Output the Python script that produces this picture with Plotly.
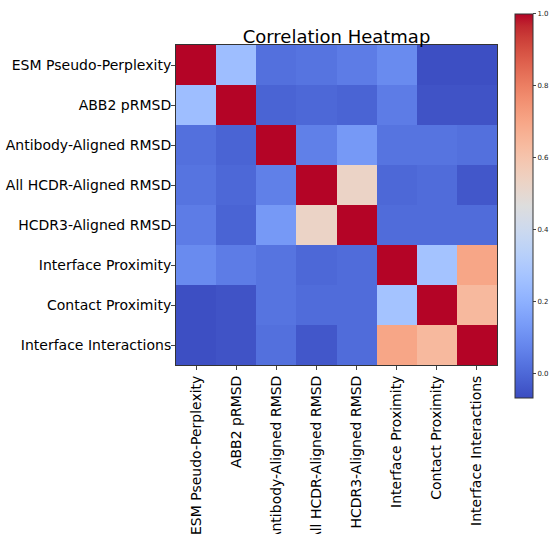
import plotly.graph_objects as go

labels = ["ESM Pseudo-Perplexity", "ABB2 pRMSD", "Antibody-Aligned RMSD",
          "All HCDR-Aligned RMSD", "HCDR3-Aligned RMSD", "Interface Proximity",
          "Contact Proximity", "Interface Interactions"]

row_esm = [1.00, 0.25, 0.02, 0.03, 0.05, 0.09, -0.06, -0.06]
row_abb2 = [0.25, 1.00, -0.01, 0.00, -0.01, 0.05, -0.05, -0.05]
row_ab = [0.02, -0.01, 1.00, 0.06, 0.13, 0.03, 0.03, 0.02]
row_hcdr = [0.03, 0.00, 0.06, 1.00, 0.53, 0.00, 0.01, -0.04]
row_hcdr3 = [0.05, -0.01, 0.13, 0.53, 1.00, 0.01, 0.01, 0.01]
row_iprox = [0.09, 0.05, 0.03, 0.00, 0.01, 1.00, 0.27, 0.70]
row_cprox = [-0.06, -0.05, 0.03, 0.01, 0.01, 0.27, 1.00, 0.64]
row_inter = [-0.06, -0.05, 0.02, -0.04, 0.01, 0.70, 0.64, 1.00]

z = [row_esm, row_abb2, row_ab, row_hcdr, row_hcdr3, row_iprox, row_cprox, row_inter]

cw = [(59,76,192),(68,90,204),(77,104,215),(87,117,225),(98,130,234),(108,142,241),
      (119,154,247),(130,165,251),(141,176,254),(152,185,255),(163,194,255),(174,201,253),
      (184,208,249),(194,213,244),(204,217,238),(213,219,230),(221,221,221),(229,216,209),
      (236,211,197),(241,204,185),(245,196,173),(247,187,160),(247,177,148),(247,166,135),
      (244,154,123),(241,141,111),(236,127,99),(229,112,88),(222,96,77),(213,80,66),
      (203,62,56),(192,40,47),(180,4,38)]
colorscale = [[i/(len(cw)-1), "rgb(%d,%d,%d)" % c] for i, c in enumerate(cw)]

zmin = -0.067
zmax = 1.0

fig = go.Figure(go.Heatmap(
    z=z, x=labels, y=labels, colorscale=colorscale, zmin=zmin, zmax=zmax,
    xgap=0, ygap=0,
    colorbar=dict(
        thickness=18, len=1.2, lenmode="fraction", y=-0.103, yanchor="bottom",
        x=1.056, xanchor="left", xpad=0, ypad=0, outlinecolor="#333", outlinewidth=1,
        tickvals=[0.0, 0.2, 0.4, 0.6, 0.8, 1.0], ticktext=["0.0", "0.2", "0.4", "0.6", "0.8", "1.0"],
        ticks="outside", ticklen=3, tickfont=dict(size=7, color="#222"),
    ),
))

fig.update_layout(
    width=557, height=534,
    margin=dict(l=176, r=60, t=45, b=169, autoexpand=False),
    paper_bgcolor="white", plot_bgcolor="white",
    font=dict(family="DejaVu Sans", color="black"),
    title=dict(text="Correlation Heatmap", x=0.5, xanchor="center", xref="paper",
               y=1, yref="paper", yanchor="bottom", pad=dict(b=2),
               font=dict(size=18, color="black")),
)
fig.update_xaxes(tickangle=-90, tickfont=dict(size=14), ticks="outside", ticklen=4,
                 showline=True, linecolor="#333", mirror=True, automargin=False)
fig.update_yaxes(autorange="reversed", tickfont=dict(size=14), ticks="outside", ticklen=4,
                 ticklabelstandoff=-3,
                 showline=True, linecolor="#333", mirror=True, automargin=False)

fig.write_html("out.html", config={"displayModeBar": False},
               post_script="document.body.style.margin='0';document.body.style.overflow='hidden';")
